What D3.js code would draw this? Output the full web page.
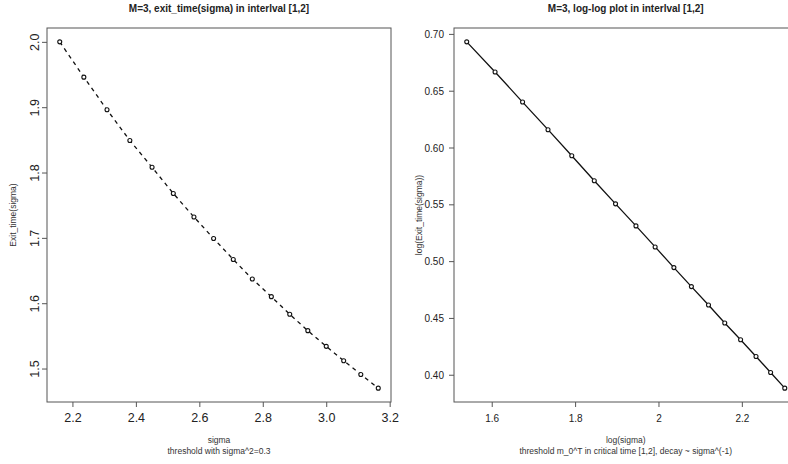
<!DOCTYPE html>
<html>
<head>
<meta charset="utf-8">
<script src="https://cdn.jsdelivr.net/npm/d3@7"></script>
<style>
  html, body { margin: 0; padding: 0; background: #fff; overflow: hidden; }
  svg { display: block; font-family: "Liberation Sans", Arial, sans-serif; }
</style>
</head>
<body>
<svg id="chart" width="788" height="464"></svg>
<script>
// ---- Data ----
const sigma = [2.160, 2.236, 2.309, 2.381, 2.451, 2.518, 2.583, 2.645, 2.707,
               2.767, 2.827, 2.885, 2.942, 3.000, 3.055, 3.109, 3.164];
const exitTime = [2.000, 1.946, 1.896, 1.849, 1.808, 1.768, 1.732, 1.699, 1.667,
                  1.637, 1.610, 1.583, 1.558, 1.534, 1.512, 1.491, 1.470];
const logSigma = [1.540, 1.608, 1.674, 1.735, 1.792, 1.846, 1.897, 1.946, 1.992,
                  2.037, 2.079, 2.120, 2.159, 2.197, 2.234, 2.269, 2.303];
const logExit = [0.693, 0.6665, 0.640, 0.6157, 0.5928, 0.5707, 0.5504, 0.5310, 0.5125,
                 0.4943, 0.4776, 0.4614, 0.4455, 0.4308, 0.4161, 0.4020, 0.3882];

const leftXTicks = [2.2, 2.4, 2.6, 2.8, 3.0, 3.2];
const leftYTicks = [1.5, 1.6, 1.7, 1.8, 1.9, 2.0];
const rightXTicks = [1.6, 1.8, 2.0, 2.2];
const rightYTicks = [0.40, 0.45, 0.50, 0.55, 0.60, 0.65, 0.70];

const titles = ["M=3, exit_time(sigma) in interlval [1,2]", "M=3, log-log plot in interlval [1,2]"];
const xLabels = ["sigma", "log(sigma)"];
const subLabels = ["threshold with sigma^2=0.3", "threshold m_0^T in critical time [1,2], decay ~ sigma^(-1)"];
const yLabels = ["Exit_time(sigma)", "log(Exit_time(sigma))"];

// ---- Drawing ----
const svg = d3.select("#chart");
const AXIS = "#555";

function padded(arr) {
  const [a, b] = d3.extent(arr);
  const p = (b - a) * 0.04;
  return [a - p, b + p];
}

function panel(cfg) {
  const g = svg.append("g");
  const x = d3.scaleLinear().domain(padded(cfg.xs)).range([cfg.x0, cfg.x1]);
  const y = d3.scaleLinear().domain(padded(cfg.ys)).range([cfg.y1, cfg.y0]);

  // box
  g.append("rect")
    .attr("x", cfg.x0).attr("y", cfg.y0)
    .attr("width", cfg.x1 - cfg.x0).attr("height", cfg.y1 - cfg.y0)
    .attr("fill", "none").attr("stroke", AXIS).attr("stroke-width", 1);

  // x axis
  const xa = g.append("g").attr("transform", `translate(0,${cfg.y1})`)
    .call(d3.axisBottom(x).tickValues(cfg.xTicks).tickSize(5).tickSizeOuter(0)
      .tickFormat(cfg.xFmt));
  xa.select(".domain").remove();
  xa.selectAll(".tick line").attr("stroke", AXIS);
  xa.selectAll(".tick text").attr("font-size", cfg.tickFont).attr("fill", "#222")
    .attr("y", cfg.xLabY).attr("dy", 0);

  // y axis
  const ya = g.append("g").attr("transform", `translate(${cfg.x0},0)`)
    .call(d3.axisLeft(y).tickValues(cfg.yTicks).tickSize(5).tickSizeOuter(0)
      .tickFormat(cfg.yFmt));
  ya.select(".domain").remove();
  ya.selectAll(".tick line").attr("stroke", AXIS);
  const yt = ya.selectAll(".tick text").attr("font-size", cfg.tickFont).attr("fill", "#222");
  if (cfg.rotY) {
    yt.attr("x", null).attr("dy", 0).attr("text-anchor", "middle")
      .attr("transform", `translate(${cfg.yLabX},0) rotate(-90)`);
  } else {
    yt.attr("x", cfg.yLabX).attr("dy", "0.35em");
  }

  // line + points
  const pts = cfg.xs.map((v, i) => [v, cfg.ys[i]]);
  g.append("path").datum(pts)
    .attr("d", d3.line().x(d => x(d[0])).y(d => y(d[1])))
    .attr("fill", "none").attr("stroke", "#111")
    .attr("stroke-width", cfg.lw)
    .attr("stroke-dasharray", cfg.dash || null);
  g.selectAll("circle.pt").data(pts).join("circle")
    .attr("class", "pt")
    .attr("cx", d => x(d[0])).attr("cy", d => y(d[1]))
    .attr("r", 2).attr("fill", "#fff").attr("stroke", "#111").attr("stroke-width", 1.1);

  const cx = (cfg.x0 + cfg.x1) / 2;
  const cy = (cfg.y0 + cfg.y1) / 2;
  g.append("text").attr("x", cx).attr("y", 12).attr("text-anchor", "middle")
    .attr("font-size", 10).attr("font-weight", "bold").attr("fill", "#222").text(cfg.title);
  g.append("text").attr("x", cx).attr("y", 443).attr("text-anchor", "middle")
    .attr("font-size", 8.5).attr("fill", "#333").text(cfg.xLabel);
  g.append("text").attr("x", cx).attr("y", 454).attr("text-anchor", "middle")
    .attr("font-size", 8.5).attr("fill", "#333").text(cfg.subLabel);
  g.append("text").attr("transform", `translate(${cfg.yTitleX},${cy}) rotate(-90)`)
    .attr("text-anchor", "middle").attr("font-size", 8.5).attr("fill", "#333").text(cfg.yLabel);
}

panel({
  xs: sigma, ys: exitTime, x0: 47, x1: 391, y0: 28, y1: 402,
  xTicks: leftXTicks, yTicks: leftYTicks,
  xFmt: d3.format(".1f"), yFmt: d3.format(".1f"),
  tickFont: 12.5, xLabY: 20, rotY: true, yLabX: -8,
  lw: 1.3, dash: "4,4",
  title: titles[0], xLabel: xLabels[0], subLabel: subLabels[0], yLabel: yLabels[0],
  yTitleX: 15.5
});

panel({
  xs: logSigma, ys: logExit, x0: 454, x1: 797.5, y0: 28, y1: 402,
  xTicks: rightXTicks, yTicks: rightYTicks,
  xFmt: d => (Number.isInteger(d) ? String(d) : d3.format(".1f")(d)),
  yFmt: d3.format(".2f"),
  tickFont: 10, xLabY: 19.5, rotY: false, yLabX: -10,
  lw: 1.3,
  title: titles[1], xLabel: xLabels[1], subLabel: subLabels[1], yLabel: yLabels[1],
  yTitleX: 422
});
</script>
</body>
</html>
